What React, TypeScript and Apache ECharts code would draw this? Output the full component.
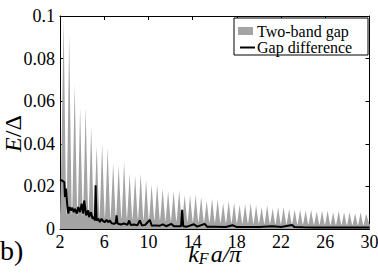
import React, { useEffect, useRef } from 'react';
import * as echarts from 'echarts';

// Two-band gap: peak positions / heights, trough positions / heights
const peakX = [2.33, 2.83, 3.33, 3.82, 4.32, 4.82, 5.32, 5.81, 6.31, 6.81, 7.31, 7.8, 8.3, 8.8, 9.3, 9.79, 10.29, 10.79, 11.29, 11.78, 12.28, 12.78, 13.28, 13.77, 14.27, 14.77, 15.27, 15.76, 16.26, 16.76, 17.26, 17.75, 18.25, 18.75, 19.25, 19.74, 20.24, 20.74, 21.24, 21.73, 22.23, 22.73, 23.23, 23.72, 24.22, 24.72, 25.22, 25.71, 26.21, 26.71, 27.21, 27.7, 28.2, 28.7, 29.2, 29.69];
const peakY = [0.0985, 0.0915, 0.068, 0.057, 0.057, 0.048, 0.039, 0.04, 0.038, 0.031, 0.03, 0.0316, 0.026, 0.025, 0.026, 0.023, 0.021, 0.021, 0.019, 0.0178, 0.0178, 0.0182, 0.0158, 0.016, 0.0162, 0.015, 0.0133, 0.0142, 0.0138, 0.0122, 0.0132, 0.0124, 0.0114, 0.0117, 0.0121, 0.0111, 0.0103, 0.0111, 0.0098, 0.0103, 0.0103, 0.0095, 0.009, 0.009, 0.0087, 0.009, 0.0082, 0.0087, 0.0087, 0.0079, 0.0084, 0.0079, 0.0079, 0.0074, 0.0079, 0.0072];
const troughX = [2, 2.58, 3.08, 3.58, 4.07, 4.57, 5.07, 5.57, 6.06, 6.56, 7.06, 7.56, 8.05, 8.55, 9.05, 9.55, 10.04, 10.54, 11.04, 11.54, 12.03, 12.53, 13.03, 13.53, 14.02, 14.52, 15.02, 15.52, 16.01, 16.51, 17.01, 17.51, 18.0, 18.5, 19.0, 19.5, 19.99, 20.49, 20.99, 21.49, 21.98, 22.48, 22.98, 23.48, 23.97, 24.47, 24.97, 25.47, 25.96, 26.46, 26.96, 27.46, 27.95, 28.45, 28.95, 29.45, 30];
const troughY = [0.007, 0.0068, 0.0064, 0.0062, 0.006, 0.0058, 0.0056, 0.0055, 0.0053, 0.0052, 0.005, 0.0049, 0.0047, 0.0046, 0.0045, 0.0043, 0.0042, 0.0041, 0.004, 0.0038, 0.0037, 0.0036, 0.0035, 0.0034, 0.0033, 0.0032, 0.0031, 0.003, 0.003, 0.0029, 0.0028, 0.0028, 0.0027, 0.0026, 0.0026, 0.0025, 0.0025, 0.0024, 0.0024, 0.0023, 0.0023, 0.0022, 0.0022, 0.0021, 0.0021, 0.0021, 0.002, 0.002, 0.002, 0.0019, 0.0019, 0.0019, 0.0018, 0.0018, 0.0018, 0.0018, 0.0025];

// Gap difference
const diffX = [2.0, 2.15, 2.39, 2.45, 2.54, 2.66, 2.75, 2.87, 2.99, 3.11, 3.24, 3.35, 3.53, 3.65, 3.81, 3.96, 4.1, 4.19, 4.37, 4.55, 4.64, 4.8, 4.95, 5.1, 5.16, 5.22, 5.31, 5.46, 5.61, 5.76, 5.91, 6.06, 6.21, 6.36, 6.51, 6.67, 6.9, 7.05, 7.12, 7.2, 7.5, 7.8, 8.1, 8.26, 8.4, 8.7, 9.0, 9.22, 9.4, 9.7, 10.12, 10.3, 10.6, 11.0, 11.3, 11.6, 12.08, 12.3, 12.7, 12.95, 13.05, 13.15, 13.5, 14.12, 14.4, 15.09, 15.3, 16.0, 17.0, 17.6, 18.0, 19.0, 20.0, 21.2, 22.0, 23.0, 23.2, 24.0, 25.0, 26.0, 27.0, 28.0, 29.0, 30.0];
const diffY = [0.0232, 0.0228, 0.022, 0.015, 0.019, 0.011, 0.0073, 0.0103, 0.0087, 0.01, 0.0079, 0.0095, 0.0072, 0.0103, 0.0079, 0.0119, 0.0072, 0.0134, 0.0064, 0.0087, 0.0056, 0.0079, 0.0048, 0.0056, 0.004, 0.0205, 0.004, 0.0048, 0.0032, 0.0048, 0.0037, 0.0032, 0.0043, 0.0032, 0.004, 0.0027, 0.0024, 0.003, 0.0064, 0.0026, 0.0021, 0.0026, 0.0019, 0.004, 0.0019, 0.0021, 0.0017, 0.004, 0.0017, 0.0019, 0.0043, 0.0015, 0.0017, 0.0015, 0.0022, 0.0013, 0.0024, 0.0013, 0.0013, 0.0013, 0.009, 0.0013, 0.0011, 0.0022, 0.0011, 0.0024, 0.0011, 0.0011, 0.0009, 0.0018, 0.0009, 0.0009, 0.0009, 0.0013, 0.0009, 0.0019, 0.0009, 0.0008, 0.0007, 0.0007, 0.0007, 0.0007, 0.0007, 0.0007];

const yTickLabels = ['0', '0.02', '0.04', '0.06', '0.08', '0.1'];
const legendNames = ['Two-band gap', 'Gap difference'];

const GRAY = '#a4a4a4';
const SERIF = "'Liberation Serif', 'Times New Roman', 'DejaVu Serif', serif";

export default function App() {
  const ref = useRef<HTMLDivElement>(null);
  useEffect(() => {
    const chart = echarts.init(ref.current!, null, { renderer: 'svg' });
    const bandData = peakX.map((x, i) => [x, peakY[i], troughX[i], troughY[i], troughX[i + 1], troughY[i + 1]]);
    const diffData = diffX.map((x, i) => [x, diffY[i]]);
    const C = 0.15;
    const tickStyle = { inside: true, length: 4, lineStyle: { color: '#000', width: 1 } };
    const axisLine = { show: true, onZero: false, lineStyle: { color: '#000', width: 1 } };
    chart.setOption({
      animation: false,
      textStyle: { fontFamily: SERIF },
      grid: { left: 60, right: 8.5, top: 16, bottom: 44, outerBoundsMode: 'none', containLabel: false },
      xAxis: [
        {
          type: 'value', min: 2, max: 30, interval: 4, position: 'bottom',
          axisLine, axisTick: tickStyle, splitLine: { show: false },
          axisLabel: { color: '#000', fontFamily: SERIF, fontSize: 18, margin: 4 },
          name: '{i|k}{s|F}{i|a/π}', nameLocation: 'middle', nameGap: 13, nameMoveOverlap: false,
          nameTextStyle: {
            rich: {
              i: { fontFamily: SERIF, fontStyle: 'italic', fontSize: 24, lineHeight: 24, color: '#000', verticalAlign: 'top' },
              s: { fontFamily: SERIF, fontStyle: 'italic', fontSize: 16, lineHeight: 16, padding: [10, 2, 0, 0], color: '#000', verticalAlign: 'bottom' },
            },
          },
        },
        {
          type: 'value', min: 2, max: 30, interval: 4, position: 'top',
          axisLine, axisTick: tickStyle, splitLine: { show: false }, axisLabel: { show: false },
        },
      ],
      yAxis: [
        {
          type: 'value', min: 0, max: 0.1, interval: 0.02, position: 'left',
          axisLine, axisTick: tickStyle, splitLine: { show: false },
          axisLabel: {
            color: '#000', fontFamily: SERIF, fontSize: 18, margin: 5,
            formatter: (v: number) => yTickLabels[Math.round(v / 0.02)],
          },
          name: '{i|E}{r|/Δ}', nameLocation: 'middle', nameGap: 35, nameRotate: 90, nameMoveOverlap: false,
          nameTextStyle: {
            rich: {
              i: { fontFamily: SERIF, fontStyle: 'italic', fontSize: 24, color: '#000' },
              r: { fontFamily: SERIF, fontSize: 24, color: '#000', padding: [0, 22, 0, 0] },
            },
          },
        },
        {
          type: 'value', min: 0, max: 0.1, interval: 0.02, position: 'right',
          axisLine, axisTick: tickStyle, splitLine: { show: false }, axisLabel: { show: false },
        },
      ],
      series: [
        {
          name: legendNames[0],
          type: 'custom',
          xAxisIndex: 0, yAxisIndex: 0,
          clip: true,
          z: 1,
          encode: { x: [0, 2, 4], y: [1, 3, 5] },
          data: bandData,
          renderItem: (params: any, api: any) => {
            const P = api.coord([api.value(0), api.value(1)]);
            const L = api.coord([api.value(2), api.value(3)]);
            const R = api.coord([api.value(4), api.value(5)]);
            const base = api.coord([api.value(0), 0])[1];
            const lx = L[0] - 0.4, rx = R[0] + 0.4;
            const d = `M${lx} ${base} L${lx} ${L[1]} L${L[0]} ${L[1]} ` +
              `Q${L[0] + C * (P[0] - L[0])} ${L[1]} ${P[0]} ${P[1]} ` +
              `Q${R[0] - C * (R[0] - P[0])} ${R[1]} ${R[0]} ${R[1]} ` +
              `L${rx} ${R[1]} L${rx} ${base} Z`;
            return { type: 'path', shape: { pathData: d }, style: { fill: GRAY, stroke: null } };
          },
        },
        {
          name: legendNames[1],
          type: 'line',
          xAxisIndex: 0, yAxisIndex: 0,
          data: diffData,
          showSymbol: false,
          symbol: 'none',
          z: 3,
          lineStyle: { color: '#000', width: 2 },
        },
      ],
      graphic: [
        { type: 'rect', shape: { x: 234, y: 18, width: 134, height: 37 }, style: { fill: '#fff', stroke: '#000', lineWidth: 1 }, z: 10 },
        { type: 'rect', shape: { x: 238, y: 27, width: 15, height: 8 }, style: { fill: GRAY }, z: 11 },
        { type: 'line', shape: { x1: 240, y1: 47.5, x2: 255, y2: 47.5 }, style: { stroke: '#000', lineWidth: 2 }, z: 11 },
        { type: 'text', x: 257, y: 31, style: { text: legendNames[0], fontFamily: SERIF, fontSize: 16, fill: '#000', textVerticalAlign: 'middle' }, z: 11 },
        { type: 'text', x: 257, y: 47.5, style: { text: legendNames[1], fontFamily: SERIF, fontSize: 16, fill: '#000', textVerticalAlign: 'middle' }, z: 11 },
        { type: 'text', x: 0, y: 236, style: { text: 'b)', fontFamily: SERIF, fontSize: 28, fill: '#000', textVerticalAlign: 'top' }, z: 11 },
      ],
    });
    return () => chart.dispose();
  }, []);
  return <div ref={ref} style={{ position: 'fixed', left: 0, top: 0, width: 378, height: 273, background: '#fff' }} />;
}
